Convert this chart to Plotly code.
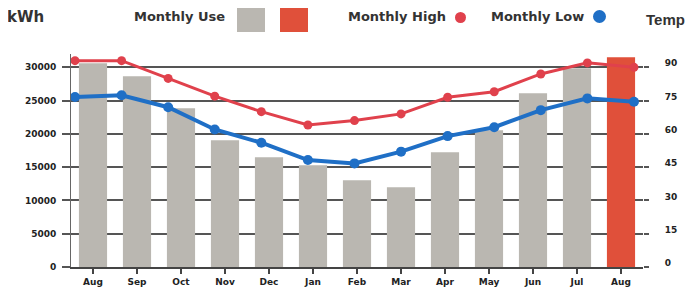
import plotly.graph_objects as go

months = ["Aug", "Sep", "Oct", "Nov", "Dec", "Jan", "Feb", "Mar", "Apr", "May", "Jun", "Jul", "Aug "]
usage_kwh = [30600, 28650, 23850, 19050, 16500, 15300, 13050, 12000, 17250, 20550, 26100, 29850, 31500]
high_temp = [93, 93, 85, 77, 70, 64, 66, 69, 76.5, 79, 87, 92, 90]
low_temp = [76.6, 77.4, 72, 62, 56, 48.2, 46.7, 52, 59, 63, 70.7, 76, 74.5]
kwh_ticks = [0, 5000, 10000, 15000, 20000, 25000, 30000]
kwh_labels = ["0", "5000", "10000", "15000", "20000", "25000", "30000"]
temp_ticks = [0, 15, 30, 45, 60, 75, 90]

bar_colors = ["#bab7b1"] * 12 + ["#e0503a"]

OFF = 8  # page body margin
W, H = 696 - OFF, 292 - OFF
L, R, T, B = 71, 643, 54, 267  # page pixel positions of plot area
KMAX = 32000

fig = go.Figure()
fig.add_trace(go.Bar(x=months, y=usage_kwh, marker_color=bar_colors, width=0.64,
                     marker_line_width=0, xaxis="x", yaxis="y"))
fig.add_trace(go.Scatter(x=list(range(len(months))), y=high_temp, mode="lines+markers",
                         line=dict(color="#e0414c", width=3),
                         marker=dict(size=9, color="#e0414c"), xaxis="x2", yaxis="y2"))
fig.add_trace(go.Scatter(x=list(range(len(months))), y=low_temp, mode="lines+markers",
                         line=dict(color="#1f6fc6", width=4),
                         marker=dict(size=10, color="#1f6fc6"), xaxis="x2", yaxis="y2"))

FONT = "DejaVu Sans"
tickfont = dict(family=FONT, size=9, color="#222", weight="bold")
fig.update_layout(
    width=W, height=H, showlegend=False,
    margin=dict(l=L - OFF, r=696 - R, t=T - OFF, b=292 - B, pad=0, autoexpand=False),
    paper_bgcolor="white", plot_bgcolor="white",
    xaxis=dict(type="category", range=[-0.5, 12.5], showgrid=False, automargin=False,
               showline=True, linecolor="#444", linewidth=2,
               ticks="outside", ticklen=5, tickcolor="#444", tickwidth=1.5,
               tickfont=tickfont,
               tickmode="array", tickvals=months, ticktext=[m.strip() for m in months]),
    xaxis2=dict(overlaying="x", range=[-0.086, 12.194], visible=False, automargin=False),
    yaxis=dict(range=[0, KMAX], tickmode="array", tickvals=kwh_ticks, ticktext=kwh_labels,
               showgrid=True, gridcolor="#555", automargin=False,
               gridwidth=1.5, zeroline=False, showline=True, linecolor="#666", linewidth=1,
               ticks="outside", ticklen=8, tickcolor="#555", tickwidth=1.5,
               tickfont=tickfont, ticklabelstandoff=4),
    yaxis2=dict(overlaying="y", side="right", range=[0, KMAX / 333.333], automargin=False,
                tickmode="array", tickvals=temp_ticks, showgrid=False, zeroline=False, showline=False,
                ticks="outside", ticklen=5, tickcolor="#555", tickwidth=1.5,
                tickfont=tickfont, ticklabelstandoff=14, ticklabelshift=-4),
)

def px(x):
    return (x - L) / (R - L)

def py(y):
    return (B - y) / (B - T)

def text(x, y, s, anchor="left", size=13, family=FONT):
    fig.add_annotation(x=px(x), y=py(y), xref="paper", yref="paper", text="<b>" + s + "</b>",
                       showarrow=False, xanchor=anchor, yanchor="middle", borderpad=0,
                       font=dict(family=family, size=size, color="#333"))

text(6, 17, "kWh", size=15)
text(133, 17, "Monthly Use")
text(347, 17, "Monthly High")
text(490, 17, "Monthly Low")
text(686, 19, "Temp", anchor="right", size=15, family="Liberation Sans")

fig.add_shape(type="rect", xref="paper", yref="paper", x0=px(237), x1=px(265), y0=py(5), y1=py(32),
              fillcolor="#bab7b1", line_width=0)
fig.add_shape(type="rect", xref="paper", yref="paper", x0=px(280), x1=px(308), y0=py(5), y1=py(32),
              fillcolor="#e0503a", line_width=0)
fig.add_shape(type="circle", xref="paper", yref="paper", x0=px(455), x1=px(466), y0=py(12), y1=py(23),
              fillcolor="#e0414c", line_width=0)
fig.add_shape(type="circle", xref="paper", yref="paper", x0=px(593), x1=px(606), y0=py(10), y1=py(23),
              fillcolor="#1f6fc6", line_width=0)

fig.write_html("out.html")
